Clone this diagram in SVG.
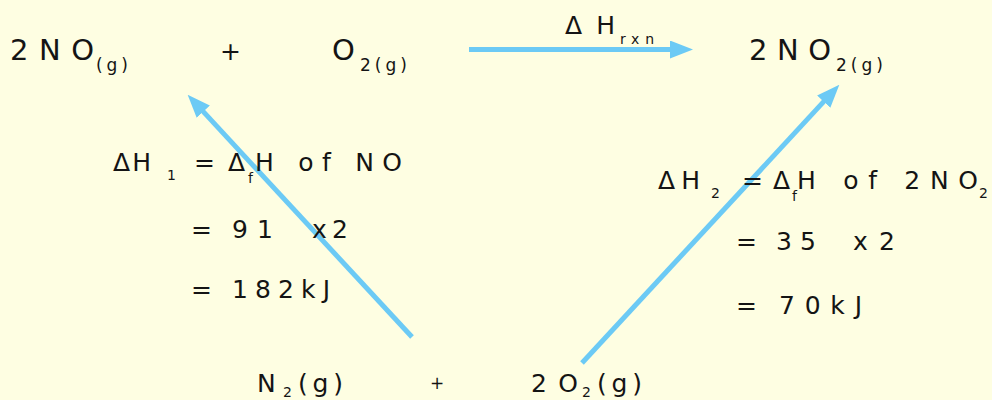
<svg xmlns="http://www.w3.org/2000/svg" width="992" height="400" viewBox="0 0 992 400">
<style>
.t{font-family:"DejaVu Sans","Liberation Sans",sans-serif;fill:#141414;font-weight:400}
.big{font-size:29px}
.mid{font-size:25px}
.sub{font-size:17px}
.sm{font-size:14px}
.arr{stroke:#6ccaf5;stroke-width:5;fill:none;marker-end:url(#ah)}
</style>
<defs>
<marker id="ah" markerUnits="userSpaceOnUse" viewBox="0 0 23 18" markerWidth="23" markerHeight="18" refX="1" refY="9" orient="auto">
<path d="M0,0 L23,9 L0,18 z" fill="#6ccaf5"/>
</marker>
</defs>
<rect width="992" height="400" fill="#fefee2"/>
<g id="connectors">
<line class="arr" x1="469" y1="49.5" x2="671" y2="49.5"/>
<line class="arr" x1="412" y1="337" x2="202.6" y2="110.9"/>
<line class="arr" x1="582" y1="363" x2="824.4" y2="100.9"/>
</g>
<g id="reactant-2NO">
<text class="t big" x="10" y="60" textLength="84" lengthAdjust="spacing">2NO</text>
<text class="t sub" x="96" y="71" textLength="32" lengthAdjust="spacing">(g)</text>
</g>
<g id="plus-top"><text class="t mid" x="220" y="60">+</text></g>
<g id="reactant-O2">
<text class="t big" x="332" y="60">O</text>
<text class="t sub" x="360" y="71" textLength="47" lengthAdjust="spacing">2(g)</text>
</g>
<g id="label-rxn">
<text class="t mid" x="565" y="34" textLength="50" lengthAdjust="spacing">ΔH</text>
<text class="t sm" x="620" y="44" textLength="34" lengthAdjust="spacing">rxn</text>
</g>
<g id="product-2NO2">
<text class="t big" x="749" y="60" textLength="82" lengthAdjust="spacing">2NO</text>
<text class="t sub" x="836" y="71" textLength="47" lengthAdjust="spacing">2(g)</text>
</g>
<g id="label-H1">
<text class="t mid" x="113" y="171" textLength="38" lengthAdjust="spacing">ΔH</text>
<text class="t sm" x="167" y="180">1</text>
<text class="t mid" x="194" y="171" textLength="51" lengthAdjust="spacing">=Δ</text>
<text class="t sm" x="248" y="183">f</text>
<text class="t mid" x="255" y="171" textLength="147" lengthAdjust="spacing">H of NO</text>
<text class="t mid" x="191" y="238">=</text>
<text class="t mid" x="232" y="238" textLength="41" lengthAdjust="spacing">91</text>
<text class="t mid" x="312" y="238" textLength="36" lengthAdjust="spacing">x2</text>
<text class="t mid" x="191" y="298">=</text>
<text class="t mid" x="232" y="298" textLength="98" lengthAdjust="spacing">182kJ</text>
</g>
<g id="label-H2">
<text class="t mid" x="658" y="189" textLength="42" lengthAdjust="spacing">ΔH</text>
<text class="t sm" x="711" y="198">2</text>
<text class="t mid" x="742" y="189" textLength="48" lengthAdjust="spacing">=Δ</text>
<text class="t sm" x="792" y="201">f</text>
<text class="t mid" x="797" y="189" textLength="181" lengthAdjust="spacing">H of 2NO</text>
<text class="t sm" x="979" y="198">2</text>
<text class="t mid" x="736" y="250">=</text>
<text class="t mid" x="776" y="250" textLength="40" lengthAdjust="spacing">35</text>
<text class="t mid" x="853" y="250" textLength="42" lengthAdjust="spacing">x2</text>
<text class="t mid" x="736" y="314">=</text>
<text class="t mid" x="779" y="314" textLength="83" lengthAdjust="spacing">70kJ</text>
</g>
<g id="reactant-N2">
<text class="t mid" x="257" y="392">N</text>
<text class="t sm" x="283" y="397">2</text>
<text class="t mid" x="298" y="392" textLength="45" lengthAdjust="spacing">(g)</text>
</g>
<g id="plus-bottom"><text class="t sub" x="430" y="389">+</text></g>
<g id="reactant-2O2">
<text class="t mid" x="531" y="392" textLength="47" lengthAdjust="spacing">2O</text>
<text class="t sm" x="582" y="397">2</text>
<text class="t mid" x="597" y="392" textLength="45" lengthAdjust="spacing">(g)</text>
</g>
</svg>
